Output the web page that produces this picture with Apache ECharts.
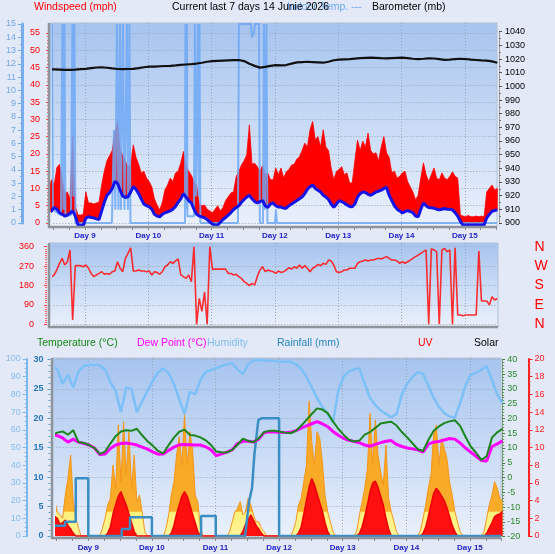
<!DOCTYPE html>
<html><head><meta charset="utf-8">
<script src="https://cdn.jsdelivr.net/npm/echarts@6/dist/echarts.min.js"></script>
<style>html,body{margin:0;padding:0;background:#e3e9f7;}#c{width:555px;height:554px;}</style>
</head><body><div id="c"></div>
<script>
// ---------------- DATA ----------------
const T0 = 8.43;            // first sample, in days (Day 8, ~10:19)
const STEP_H = 1 / 24;      // hourly samples
const STEP_2H = 1 / 12;     // 2-hourly samples
const dayTicks = [9, 10, 11, 12, 13, 14, 15];

// wind average (mph), hourly
const windAvg = [3.0,3.5,4.5,4.0,3.0,2.5,2.0,2.3,2.8,3.5,
 2.0,-0.5,-0.7,-0.7,1.4,1.8,1.6,1.5,1.2,1.0,
 3.5,6.0,8.0,8.8,10.0,12.0,11.5,9.5,7.8,7.4,
 7.6,9.0,10.5,9.8,8.5,7.0,5.5,5.0,4.7,4.0,
 2.5,2.0,1.8,2.5,3.0,3.2,3.5,4.0,4.8,6.0,
 7.0,8.5,7.5,6.5,5.8,4.0,2.5,2.0,1.8,1.5,
 1.0,0.3,-0.3,-0.6,-0.6,0.2,1.0,1.6,2.3,3.0,
 3.9,4.5,5.0,6.0,6.8,7.5,8.0,7.0,6.2,5.8,
 6.2,6.5,5.0,4.5,5.5,5.8,5.0,4.6,4.6,4.3,
 4.3,5.0,5.5,6.0,6.5,7.0,7.5,8.5,9.8,10.5,
 11.0,10.0,9.5,9.0,8.0,7.5,6.8,5.5,4.5,5.5,
 6.5,6.2,5.8,5.2,4.8,4.7,5.5,7.5,8.5,9.0,
 8.8,8.3,8.0,8.5,9.0,9.2,9.5,10.0,10.3,8.0,
 6.5,5.0,4.0,3.5,2.9,3.3,3.6,3.3,3.0,2.0,
 1.8,4.0,5.8,5.0,4.5,4.4,4.3,4.0,3.8,4.0,
 4.2,4.0,4.0,3.8,3.0,2.0,0.5,-0.6,-0.6,-0.6,
 -0.6,-0.6,-0.6,-0.6,-0.6,-0.6,1.5,2.5,3.4,3.6,
 3.8];
// wind gust (mph), hourly
const windGust = [10,12.5,11,16,17,13,8.5,9,7,25,
 5,2.3,2.3,2.5,9,5.8,5.8,5.5,5.8,6,
 11,15,18,19.5,21,26,29.4,21,19.7,18,
 16,17,22.6,19,17,14.5,15,13,12,10.5,
 7,5.2,3.8,6,9.6,11,13,12,14.5,15,
 17.4,20.7,16.3,15,13.8,12,11,5.5,5,5.2,
 4,3.5,3,4,5,3.5,4.5,6.5,7.6,8.7,
 9,13.4,15,16.8,18,19.7,28.4,17,17.3,16.3,
 15,16.6,14,14.5,12.5,12.5,15.9,14,15.9,13,
 14.8,15.5,16.8,17,18.5,19.2,21,23.1,22,27,
 29.4,24,25,22,27,22,21,16,12.5,14.9,
 15.5,16.3,14,14.5,11.6,11.6,18,24,21,23.7,
 22,26,21,20,20.3,18,22,25,20.3,19,
 14.5,15,13,13.5,14.5,15,12,10.5,9,6.7,
 8,13,17.4,14,12,14,15.9,13,12.5,14.5,
 13,12.5,13.5,14.8,13.5,13,2.3,2,1.8,2.2,
 1.8,1.8,2,1.8,2,1.8,9,10,11,9.5,
 10];
// light-blue series on the 0-15 axis (time in days, value)
const lbT = [8.430,8.446,8.461,8.477,8.493,8.556,8.620,8.643,8.659,8.675,8.691,8.778,8.801,8.817,8.833,8.849,8.999,9.236,
 9.425,9.457,9.480,9.504,9.528,9.552,9.567,9.599,9.623,9.662,9.678,9.702,9.718,
 10.579,10.586,10.600,10.610,10.618,10.721,10.736,10.752,10.784,10.796,10.808,10.823,
 11.416,11.432,11.621,11.637,11.669,11.684,11.748,11.763,11.811,11.827,11.842,11.866,11.882,12.000,12.016,12.032,15.507];
const lbV = [0.5,15,0.8,15,1,0.8,0.6,15,1,15,0.5,0.6,15,2,15,0,0,0,
 0,7,1,15,1,15,1,15,1,15,1,15,0,
 0,15,1,15,0.5,0.5,15,2,15,2,15,0,
 0,15,15,14,14.3,15,15,0,0,15,1,15,0,0,1,0,0];
// barometer (mb), 2-hourly
const baro = [1012.5,1012.4,1012.2,1012,1012.1,1012.3,1012.6,1012.8,1013.3,1013.8,
 1014,1013.6,1013.1,1012.7,1012.6,1012.7,1012.8,1013.3,1014,1014.4,
 1014.5,1014.7,1014.9,1015,1015.3,1015.7,1016,1016.3,1016.7,1017.3,
 1018,1018.4,1018.6,1018.8,1019,1019.2,1019.3,1018.5,1016.5,1015,
 1013.7,1014.3,1015,1015.5,1015.3,1015.6,1016.6,1017.5,1017.8,1018,
 1017.8,1017.6,1017.3,1018,1019.1,1019.5,1019.8,1020,1020.3,1020.6,
 1020.9,1021,1020.8,1020.6,1020.5,1020.7,1020.9,1021,1020.6,1020.2,
 1020,1020.2,1020.5,1020.4,1019.9,1019.4,1019.5,1020,1020.2,1020,
 1019.6,1019.3,1019,1018.8,1018.3,1017.3];
// wind direction (degrees), hourly
const windDir = [213,220,229,252,283,306,275,290,345,20,
 272,272,272,267,275,260,236,221,229,236,
 244,232,236,232,244,247,290,260,244,306,
 329,355,247,247,252,247,247,244,247,229,
 244,241,232,244,267,275,290,283,294,303,
 229,221,213,229,198,360,0,120,60,150,
 0,360,256,256,256,256,256,256,236,236,
 229,232,221,213,198,190,179,190,182,221,
 252,267,244,252,247,244,236,247,241,244,
 252,263,256,267,260,275,260,272,260,244,
 260,267,278,272,283,278,298,294,275,244,
 241,244,252,252,260,260,260,283,290,294,
 298,294,298,298,303,306,303,309,314,306,
 298,298,294,283,290,283,290,298,306,314,
 321,329,337,345,0,350,345,337,0,345,
 352,337,345,0,355,43,43,40,43,43,
 43,43,43,340,108,108,108,90,128,113,
 120];
// temperature (°C), 2-hourly
const temperature = [14.5,15.2,15.6,14.5,16.0,12.0,11.7,11.0,10.0,8.0,
 8.8,11.5,14.0,15.6,16.0,15.8,16.5,14.3,12.3,10.8,
 9.0,8.2,11.0,13.5,15.5,16.2,14.4,14.2,13.6,12.6,
 11.0,8.8,8.6,8.5,9.4,11.1,13.2,12.4,12.0,13.3,
 15.4,15.8,15.8,15.5,15.2,15.0,15.8,17.5,19.5,21.5,
 23.4,23.0,21.8,19.0,16.5,14.5,12.8,12.2,12.5,14.5,
 15.4,16.8,18.3,18.6,18.9,17.6,15.4,13.6,11.6,9.6,
 9.0,12.7,15.8,17.3,18.4,19.0,19.4,17.5,13.8,10.5,
 8.4,6.0,7.2,13.5,15.3,16.5];
// dew point (°C), 2-hourly
const dewPoint = [14.4,14.2,13.4,12.0,13.0,12.0,11.5,11.0,10.0,7.8,
 8.0,9.8,11.0,11.5,11.7,11.4,11.0,10.3,9.6,8.7,
 7.9,8.0,9.2,10.3,11.1,11.2,11.1,11.0,11.0,10.4,
 9.3,7.4,8.0,8.6,9.4,11.5,12.3,12.3,12.0,13.0,
 15.2,15.5,15.4,15.3,15.2,15.3,15.9,16.7,17.5,18.2,
 18.9,18.2,17.2,15.6,14.3,13.3,12.6,12.2,11.8,11.0,
 10.6,11.2,11.8,12.3,12.5,11.2,10.5,10.0,9.7,9.4,
 8.6,11.3,12.0,12.2,12.7,13.2,13.0,11.7,10.0,8.6,
 7.2,5.8,5.6,10.5,11.4,12.4];
// humidity (%), 2-hourly
const humidity = [97,94,86,91,84,93,96,96.6,96.6,96.5,
 94,87,82,70,84,83,70,76,82,87.5,
 92.5,94.7,92,86,77,69,81.5,80,88,92.8,
 93.6,95,96,97,97.6,94,91.5,97,99,99.4,
 99.2,99,98.8,98.5,98.5,98.5,97,94.5,90,84,
 78,73,69,64,82,90,93,94.2,94.7,86,
 78,74,71,69,67,69,80,86,90,92.5,
 91.5,85,78,73,69.5,67.5,67,75,85,91,
 92.5,93.8,96,88,80,75];
// daily rainfall (mm): time (days) and value
const rainT = [8.43,8.634,8.634,8.803,8.803,9.0,9.0,9.526,9.526,9.656,9.656,10.0,10.0,10.773,10.773,11.004,11.004,
 11.465,11.527,11.575,11.611,11.674,11.732,12.0,12.0,15.49];
const rainV = [1.75,1.75,2.4,2.4,9.8,9.8,0,0,1.2,1.2,3.2,3.2,0,0,3.4,3.4,0,
 0,5.8,8.2,13.8,19.7,20,20,0,0];
// solar radiation (W/m²), hourly
const solar = [137,194,137,119,100,232,326,458,194,100,43,
 0,0,0,0,0,0,0,0,
 43,100,175,213,401,270,627,307,646,345,589,270,458,194,232,137,24,
 0,0,0,0,0,0,0,
 43,119,232,307,458,561,401,685,401,589,495,232,194,43,
 0,0,0,0,0,0,0,0,0,0,
 24,81,137,156,194,119,137,213,175,119,81,81,43,24,
 0,0,0,0,0,0,0,0,0,0,
 30,81,175,213,307,401,763,533,401,589,552,420,232,137,81,24,
 0,0,0,0,0,0,0,0,
 30,119,194,270,382,693,401,655,458,363,288,514,213,137,81,24,
 0,0,0,0,0,0,0,0,
 30,100,175,270,345,571,627,401,552,495,439,307,232,137,81,24,
 0,0,0,0,0,0,0,0,
 24,100,175,232,307,270,213,194];
// UV index, hourly
const uvIndex = [1.5,2.2,2.0,1.3,1.5,1.8,1.2,0.8,0.3,
 0,0,0,0,0,0,0,0,0,0,0,0,
 0.3,1.0,2.5,3.5,4.5,5.0,4.2,3.5,2.5,1.5,0.5,
 0,0,0,0,0,0,0,0,0,0,0,0,0,
 0.3,1.2,2.5,3.5,4.5,5.0,4.5,3.5,2.5,1.5,0.5,
 0,0,0,0,0,0,0,0,0,0,0,0,0,0,0,0,
 0.5,1.3,1.8,2.4,1.8,1.2,0.8,0.3,
 0,0,0,0,0,0,0,0,0,0,0,0,0,
 0.3,1.0,2.5,4.0,5.5,6.5,5.8,4.8,3.8,2.8,1.5,0.5,
 0,0,0,0,0,0,0,0,0,0,0,
 0.3,1.0,2.2,3.5,5.0,6.0,6.2,5.5,4.5,3.5,2.0,0.8,
 0,0,0,0,0,0,0,0,0,0,0,0,
 0.3,1.0,2.2,3.5,4.8,5.4,5.0,4.5,4.0,3.2,2.2,1.2,0.5,
 0,0,0,0,0,0,0,0,0,0,0,
 0.3,0.9,1.5,2.2,2.4,2.5,2.8];

// ---------------- CHART ----------------
const FONT = 'Liberation Sans, Arial, sans-serif';
const tH = i => +(T0 + i * STEP_H).toFixed(5);
const hourly = a => a.map((v, i) => [tH(i), v]);
const twoHourly = a => a.map((v, i) => [+(T0 + i * STEP_2H).toFixed(5), v]);
const pairs = (t, v) => t.map((x, i) => [x, v[i]]);

const TOPMAP = { x9: 85, D: 63.3 };
const BOTMAP = { x9: 88.3, D: 63.6 };
const px = (m, t) => m.x9 + (t - 9) * m.D;

const grids = [], xAxes = [], yAxes = [], series = [];
function addPanelGrid(map, yTop, yBot, tMin, tMax, xExtra, yExtra) {
  const l = px(map, tMin), r = px(map, tMax);
  grids.push({ left: l, width: r - l, top: yTop, height: yBot - yTop, show: false });
  const gi = grids.length - 1;
  xAxes.push(Object.assign({ type: 'value', gridIndex: gi, min: tMin, max: tMax, show: false }, xExtra || {}));
  const xi = xAxes.length - 1;
  if (yExtra) yAxes.push(Object.assign({ type: 'value', gridIndex: gi }, yExtra));
  else yAxes.push({ type: 'value', gridIndex: gi, min: 0, max: 1, show: false });
  return { gi, xi, yi: yAxes.length - 1, left: l, right: r };
}
const isDay = v => Math.abs(v - Math.round(v)) < 1e-6;
const dayAxis = (labelMargin) => ({
  show: true, interval: 0.25,
  axisLine: { show: false },
  axisTick: { show: true, length: 3, lineStyle: { color: '#8a8a8a', width: 1 } },
  axisLabel: { show: true, margin: labelMargin, color: '#2323c8', fontSize: 8, fontFamily: FONT, fontWeight: 'bold',
    formatter: v => isDay(v) && dayTicks.indexOf(Math.round(v)) >= 0 ? 'Day ' + Math.round(v) : '' },
  splitLine: { show: false }
});
const daySplit = {
  show: true, interval: 1,
  axisLine: { show: false }, axisTick: { show: false }, axisLabel: { show: false },
  splitLine: { show: true, lineStyle: { color: '#9aa6b8', type: [1, 2], width: 1 } }
};
const dotted = { show: true, lineStyle: { color: '#9aa6b8', type: [1, 2], width: 1 } };
const lab = (color, size, margin, extra) => Object.assign({ color, fontSize: size || 9, margin: margin || 6, fontFamily: FONT, formatter: v => String(v) }, extra || {});

// ---- top panel ----
const topAxis = addPanelGrid(TOPMAP, 23, 227, 8.5, 15.5, dayAxis(5));
addPanelGrid(TOPMAP, 23, 227, 9, 15, daySplit);
const gWind = addPanelGrid(TOPMAP, 33, 223, 8.5, 15.5, null, {
  min: 0, max: 55, interval: 5, position: 'left', offset: topAxis.left - 49,
  axisLine: { show: false },
  axisTick: { show: true, length: 3, lineStyle: { color: '#ff4040' } },
  minorTick: { show: true, splitNumber: 5, length: 2, lineStyle: { color: '#ff6060' } },
  axisLabel: lab('#ff0000', 9, 9), splitLine: dotted
});
const gLB = addPanelGrid(TOPMAP, 24, 223, 8.5, 15.5, null, {
  min: 0, max: 15, interval: 1, position: 'left', offset: topAxis.left - 22,
  axisLine: { show: true, lineStyle: { color: '#78aeee', width: 3 } },
  axisTick: { show: true, length: 4, lineStyle: { color: '#78aeee' } },
  minorTick: { show: true, splitNumber: 2, length: 2, lineStyle: { color: '#78aeee' } },
  axisLabel: lab('#74a8e6', 9, 6), splitLine: { show: false }
});
const gBaro = addPanelGrid(TOPMAP, 31.7, 223, 8.5, 15.5, null, {
  min: 900, max: 1040, interval: 10, position: 'right', offset: 499 - topAxis.right,
  axisLine: { show: true, lineStyle: { color: '#9a9a9a', width: 1 } },
  axisTick: { show: true, length: 3, lineStyle: { color: '#555' } },
  minorTick: { show: true, splitNumber: 2, length: 2, lineStyle: { color: '#777' } },
  axisLabel: lab('#000000', 9, 6), splitLine: { show: false }
});

// ---- middle panel ----
addPanelGrid(TOPMAP, 243, 327, 9, 15, daySplit);
const gDir = addPanelGrid(TOPMAP, 246.7, 324.3, 8.5, 15.5, null, {
  min: 0, max: 360, interval: 90, position: 'left', offset: topAxis.left - 47,
  axisLine: { show: false },
  axisTick: { show: true, length: 3, lineStyle: { color: '#ff4040' } },
  minorTick: { show: true, splitNumber: 9, length: 2, lineStyle: { color: '#ff6060' } },
  axisLabel: lab('#ff0000', 9, 13), splitLine: dotted
});
yAxes.push({ type: 'value', gridIndex: gDir.gi, min: 0, max: 360, interval: 90, position: 'right', offset: 30,
  axisLine: { show: false }, axisTick: { show: false }, splitLine: { show: false },
  axisLabel: lab('#ff0000', 14, 8, { formatter: v => ({ 0: 'N', 90: 'E', 180: 'S', 270: 'W', 360: 'N' })[v] || '' }) });

// ---- bottom panel ----
const botAxis = addPanelGrid(BOTMAP, 358, 538, 8.5, 15.5, dayAxis(6));
addPanelGrid(BOTMAP, 358, 538, 9, 15, daySplit);
const gRain = addPanelGrid(BOTMAP, 359.3, 536, 8.5, 15.5, null, {
  min: 0, max: 30, interval: 5, position: 'left', offset: botAxis.left - 50.5,
  axisLine: { show: false },
  axisTick: { show: true, length: 3, lineStyle: { color: '#5b9bd0' } },
  minorTick: { show: true, splitNumber: 5, length: 2, lineStyle: { color: '#5b9bd0' } },
  axisLabel: lab('#2a78bc', 9, 7, { fontWeight: 'bold' }), splitLine: dotted
});
const gHum = addPanelGrid(BOTMAP, 359, 536, 8.5, 15.5, null, {
  min: 0, max: 100, interval: 10, position: 'left', offset: botAxis.left - 26.7,
  axisLine: { show: true, lineStyle: { color: '#7ab8ee', width: 2 } },
  axisTick: { show: true, length: 4, lineStyle: { color: '#7ab8ee' } },
  minorTick: { show: true, splitNumber: 4, length: 2, lineStyle: { color: '#7ab8ee' } },
  axisLabel: lab('#86bcee', 9, 6), splitLine: { show: false }
});
const gTemp = addPanelGrid(BOTMAP, 359.3, 536.7, 8.5, 15.5, null, {
  min: -20, max: 40, interval: 5, position: 'right', offset: 0.5,
  axisLine: { show: true, lineStyle: { color: '#7a9a7a', width: 1 } },
  axisTick: { show: true, length: 3, lineStyle: { color: '#3a8a3a' } },
  minorTick: { show: true, splitNumber: 5, length: 2, lineStyle: { color: '#5a9a5a' } },
  axisLabel: lab('#2a8a2a', 9, 5), splitLine: { show: false }
});
const gUV = addPanelGrid(BOTMAP, 359, 536, 8.5, 15.5, null, {
  min: 0, max: 20, interval: 2, position: 'right', offset: 528.5 - botAxis.right,
  axisLine: { show: true, lineStyle: { color: '#ff2020', width: 2 } },
  axisTick: { show: true, length: 4, lineStyle: { color: '#ff2020' } },
  minorTick: { show: true, splitNumber: 4, length: 2, lineStyle: { color: '#ff4040' } },
  axisLabel: lab('#ff2020', 9, 6), splitLine: { show: false }
});
yAxes.push({ type: 'value', gridIndex: gUV.gi, min: 0, max: 1000, show: false });
const ySolar = yAxes.length - 1;

// ---- series ----
const base = { type: 'line', showSymbol: false, symbol: 'none', clip: false, silent: true, animation: false };
// gust band between average and gust, drawn through the wind axes
series.push({ type: 'custom', name: 'Gust', xAxisIndex: gWind.xi, yAxisIndex: gWind.yi, silent: true, animation: false, clip: false,
  data: [[12, 10]],
  renderItem: (params, api) => {
    const pts = [];
    windGust.forEach((g, i) => pts.push(api.coord([tH(i), g])));
    for (let i = windAvg.length - 1; i >= 0; i--) pts.push(api.coord([tH(i), windAvg[i]]));
    return { type: 'polygon', shape: { points: pts }, style: { fill: '#ff0000', stroke: '#ff0000', lineWidth: 0.8 } };
  }
});
series.push(Object.assign({}, base, { name: 'lb', xAxisIndex: gLB.xi, yAxisIndex: gLB.yi,
  data: pairs(lbT, lbV), lineStyle: { color: '#6ea8f4', width: 2, opacity: 0.85 } }));
series.push(Object.assign({}, base, { name: 'Wind', xAxisIndex: gWind.xi, yAxisIndex: gWind.yi,
  data: hourly(windAvg), lineStyle: { color: '#1414e8', width: 3 } }));
series.push(Object.assign({}, base, { name: 'Baro', xAxisIndex: gBaro.xi, yAxisIndex: gBaro.yi,
  data: twoHourly(baro), lineStyle: { color: '#111111', width: 2.2 } }));
series.push(Object.assign({}, base, { name: 'Dir', xAxisIndex: gDir.xi, yAxisIndex: gDir.yi,
  data: hourly(windDir), lineStyle: { color: '#ff1a1a', width: 1.6, opacity: 0.9 } }));
series.push(Object.assign({}, base, { name: 'Solar', xAxisIndex: gUV.xi, yAxisIndex: ySolar,
  data: hourly(solar), lineStyle: { color: '#f5961a', width: 1 },
  areaStyle: { opacity: 1, color: { type: 'linear', x: 0, y: 359, x2: 0, y2: 536, global: true,
    colorStops: [{ offset: 0, color: '#f7a11c' }, { offset: 0.86, color: '#f9ad2a' }, { offset: 0.865, color: '#fff07a' }, { offset: 1, color: '#fff59a' }] } } }));
series.push(Object.assign({}, base, { name: 'UV', xAxisIndex: gUV.xi, yAxisIndex: gUV.yi,
  data: hourly(uvIndex), lineStyle: { color: '#ee0000', width: 1.5 }, areaStyle: { color: '#ff1010', opacity: 1 } }));
series.push(Object.assign({}, base, { name: 'Rain', xAxisIndex: gRain.xi, yAxisIndex: gRain.yi,
  data: pairs(rainT, rainV), lineStyle: { color: '#3a8ec4', width: 2.5 } }));
series.push(Object.assign({}, base, { name: 'Hum', xAxisIndex: gHum.xi, yAxisIndex: gHum.yi,
  data: twoHourly(humidity), lineStyle: { color: '#7cc0f7', width: 2.5 } }));
series.push(Object.assign({}, base, { name: 'Dew', xAxisIndex: gTemp.xi, yAxisIndex: gTemp.yi,
  data: twoHourly(dewPoint), lineStyle: { color: '#ff00ff', width: 3 } }));
series.push(Object.assign({}, base, { name: 'Temp', xAxisIndex: gTemp.xi, yAxisIndex: gTemp.yi,
  data: twoHourly(temperature), lineStyle: { color: '#1c861c', width: 2 } }));

// ---- graphic: panel backgrounds, borders, titles ----
const bgGrad = { type: 'linear', x: 0, y: 0, x2: 0, y2: 1,
  colorStops: [{ offset: 0, color: '#a6c4ef' }, { offset: 1, color: '#ebf1fc' }] };
const panels = [[49, 23, 448, 204], [49, 243, 449, 84], [52, 358, 449, 180]];
const graphic = [];
panels.forEach(p => {
  graphic.push({ type: 'rect', z: -10, shape: { x: p[0], y: p[1], width: p[2], height: p[3] },
    style: { fill: bgGrad, stroke: '#b3c0d4', lineWidth: 1 } });
  graphic.push({ type: 'polyline', z: 50, shape: { points: [[p[0], p[1]], [p[0], p[1] + p[3]], [p[0] + p[2], p[1] + p[3]]] },
    style: { stroke: '#8f949b', lineWidth: 2.5, fill: null } });
});
const txt = (x, y, s, color) => ({ type: 'text', z: 60, x, y,
  style: { text: s, fill: color, font: '10.5px ' + FONT, textVerticalAlign: 'middle', verticalAlign: 'middle' } });
graphic.push(txt(34, 7, 'Windspeed (mph)', '#ff0000'));
graphic.push(txt(287, 7, 'Indoor Temp. ---', '#6ea8f4'));
graphic.push(txt(172, 7, 'Current last 7 days 14 Junie 2026', '#000000'));
graphic.push(txt(372, 7, 'Barometer (mb)', '#000000'));
graphic.push(txt(37, 343, 'Temperature (°C)', '#138a13'));
graphic.push(txt(137, 343, 'Dew Point (°C)', '#ff00ff'));
graphic.push(txt(207, 343, 'Humidity', '#82bdf2'));
graphic.push(txt(277, 343, 'Rainfall (mm)', '#2a86c4'));
graphic.push(txt(418, 343, 'UV', '#ff0000'));
graphic.push(txt(474, 343, 'Solar', '#000000'));

const chart = echarts.init(document.getElementById('c'), null, { renderer: 'canvas' });
chart.setOption({
  backgroundColor: '#e3e9f7', animation: false,
  textStyle: { fontFamily: FONT },
  grid: grids, xAxis: xAxes, yAxis: yAxes, series, graphic
});
</script></body></html>
